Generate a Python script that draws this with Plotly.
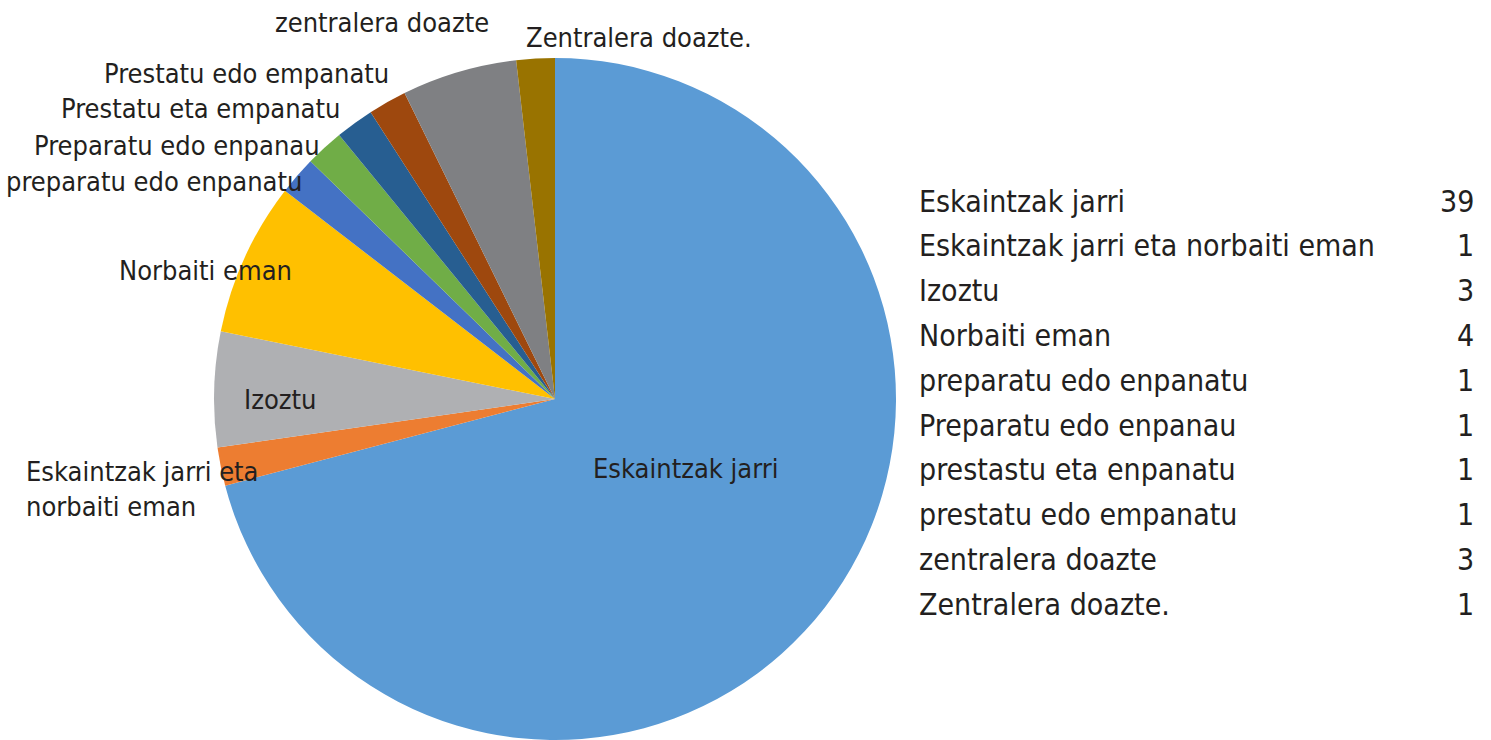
import plotly.graph_objects as go

# ---- data ----
table_labels = ["Eskaintzak jarri", "Eskaintzak jarri eta norbaiti eman", "Izoztu", "Norbaiti eman",
                "preparatu edo enpanatu", "Preparatu edo enpanau", "prestastu eta enpanatu",
                "prestatu edo empanatu", "zentralera doazte", "Zentralera doazte."]
slice_labels = ["Eskaintzak jarri", "Eskaintzak jarri eta<br>norbaiti eman", "Izoztu", "Norbaiti eman",
                "preparatu edo enpanatu", "Preparatu edo enpanau", "Prestatu eta empanatu",
                "Prestatu edo empanatu", "zentralera doazte", "Zentralera doazte."]
values = [39, 1, 3, 4, 1, 1, 1, 1, 3, 1]

# ---- styles / layout ----
colors = ["#5B9BD5", "#ED7D31", "#AFB0B3", "#FFC000", "#4472C4", "#70AD47",
          "#275E91", "#9E480E", "#7F8083", "#997300"]
W, H = 1491, 740
FONT = "DejaVu Sans Condensed, Liberation Sans Narrow, Arial Narrow, sans-serif"
TXT = "#231F20"
FS = 27
FS_TABLE = 30

# label placement in pixels (x, center y, xanchor)
label_pos = [(685, 468, "center"), (24, 489, "left"), (280, 399, "center"), (205, 271, "center"),
             (4, 181, "left"), (177, 145, "center"), (200, 108, "center"),
             (246, 73, "center"), (382, 22, "center"), (639, 37, "center")]

cx, cy, r = 555, 399, 341

fig = go.Figure(go.Pie(
    labels=table_labels,
    values=values,
    sort=False,
    direction="clockwise",
    rotation=0,
    textinfo="none",
    hoverinfo="label+value",
    marker=dict(colors=colors, line=dict(width=0)),
    domain=dict(x=[(cx - r) / W, (cx + r) / W], y=[(H - cy - r) / H, (H - cy + r) / H]),
    showlegend=False,
))

annotations = []
for lab, (px, py, anc) in zip(slice_labels, label_pos):
    annotations.append(dict(x=px / W, y=1 - py / H, xref="paper", yref="paper", text=lab,
                            showarrow=False, xanchor=anc, yanchor="middle", align="left",
                            font=dict(family=FONT, size=FS, color=TXT)))

row0, dy = 201, 44.8
for i, (lab, v) in enumerate(zip(table_labels, values)):
    y = 1 - (row0 + i * dy) / H
    annotations.append(dict(x=917 / W, y=y, xref="paper", yref="paper", text=lab, showarrow=False,
                            xanchor="left", yanchor="middle",
                            font=dict(family=FONT, size=FS_TABLE, color=TXT)))
    annotations.append(dict(x=1476 / W, y=y, xref="paper", yref="paper", text=str(v), showarrow=False,
                            xanchor="right", yanchor="middle",
                            font=dict(family=FONT, size=FS_TABLE, color=TXT)))

fig.update_layout(
    width=W, height=H,
    margin=dict(l=0, r=0, t=0, b=0),
    paper_bgcolor="white", plot_bgcolor="white",
    annotations=annotations,
)

fig.write_html("out.html", config={"displayModeBar": False},
               post_script="document.body.style.margin='0';")
